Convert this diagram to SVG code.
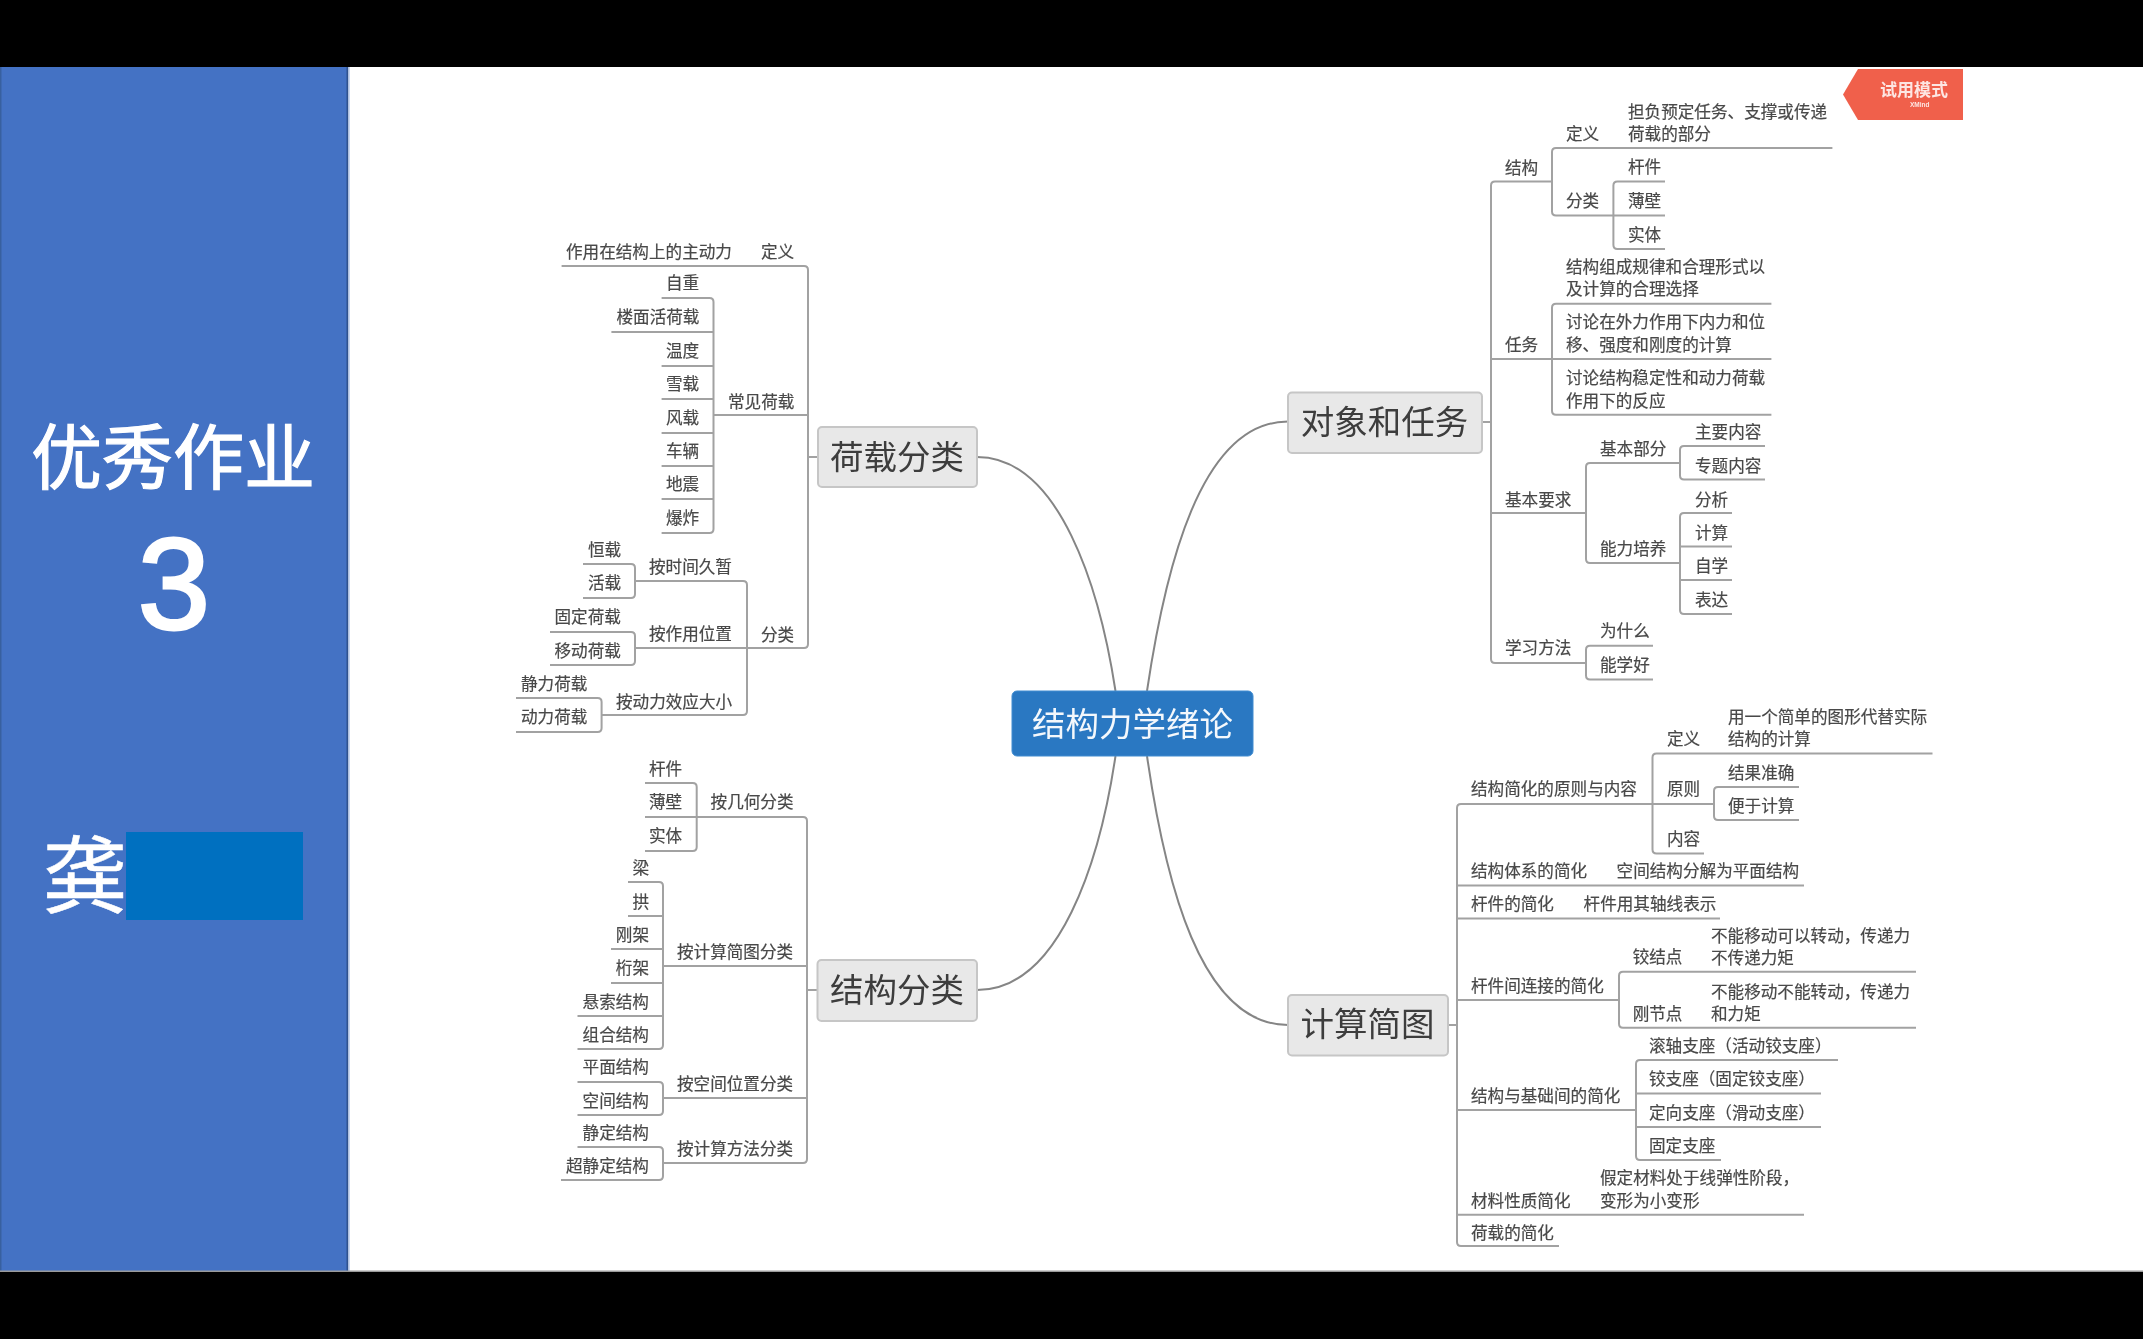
<svg xmlns="http://www.w3.org/2000/svg" width="2143" height="1339" viewBox="0 0 2143 1339">
<defs>
<style>
text{font-family:"Liberation Sans","Noto Sans CJK SC",sans-serif}
.t{font-size:16.6px;fill:#484848;stroke:#484848;stroke-width:.2}
.m{font-size:33.500px;fill:#3c3c3c;text-anchor:middle}
.box{fill:#e8e8e8;stroke:#c6c6c6;stroke-width:2}
.c{fill:none;stroke:#a2a2a2;stroke-width:2}
.cv{fill:none;stroke:#858585;stroke-width:2}
.w{fill:#fff;stroke:#fff;text-anchor:middle}
</style>
<filter id="soft" x="-2%" y="-2%" width="104%" height="104%"><feGaussianBlur stdDeviation="0.45"/></filter>
</defs>
<rect width="2143" height="1339" fill="#fff"/>
<rect width="2143" height="67" fill="#000"/>
<rect y="1272" width="2143" height="67" fill="#000"/>
<g id="panel">
<rect x="0" y="67" width="348" height="1205" fill="#4472c4"/>
<rect x="0" y="67" width="1.500" height="1205" fill="#38609f"/>
<rect x="346.500" y="67" width="2" height="1205" fill="#2f528f"/>
<rect x="348.500" y="67" width="1.500" height="1205" fill="#c9d8f2"/>
<rect x="0" y="1270.500" width="2143" height="1.500" fill="#9a9a9a"/>
<rect x="0" y="67" width="348" height="1205" fill="none"/>
<text class="w" x="173" y="483" font-size="71" stroke-width="1.200">优秀作业</text>
<text class="w" x="174" y="629" font-size="130" stroke-width="3">3</text>
<text class="w" x="85" y="907" font-size="85" stroke-width=".5">龚</text>
<rect x="126" y="832" width="177" height="88" fill="#0070c0"/>
</g>
<g id="watermark" filter="url(#soft)">
<polygon points="1858,69 1963,69 1963,120 1858,120 1843,94.500" fill="#f0604c"/>
<text x="1880" y="96" font-size="17" font-weight="bold" fill="#fde6e2">试用模式</text>
<text x="1910" y="107" font-size="6.500" font-weight="bold" fill="#fde6e2">XMind</text>
</g>
<g filter="url(#soft)">
<g id="connectors">
<path class="cv" d="M977,457C1060,457 1100,590 1115.500,691"/>
<path class="cv" d="M977,990C1060,990 1100,860 1115.500,756"/>
<path class="cv" d="M1288,421.500C1200,421.500 1165,570 1147,691"/>
<path class="cv" d="M1147,756C1165,880 1200,1025 1288,1025"/>
<path class="c" d="M808,457H818M807,990H817.500M1482,422H1491M1448,1025H1457"/>
<path class="c" d="M561.600,266H804q4,0 4,4V644q0,4-4,4H636M713,415H808"/>
<path class="c" d="M661.600,298H709.500q4,0 4,4V529q0,4-4,4H661.600M611.400,332H713.500M661.600,366H713.500M661.600,399H713.500M661.600,433H713.500M661.600,466H713.500M661.600,499H713.500"/>
<path class="c" d="M636,581H743q4,0 4,4V711q0,4-4,4H602"/>
<path class="c" d="M583,564H631q4,0 4,4V594q0,4-4,4H583"/>
<path class="c" d="M550,632H631q4,0 4,4V661q0,4-4,4H550"/>
<path class="c" d="M516,698H597.600q4,0 4,4V728q0,4-4,4H516"/>
<path class="c" d="M645,817H803q4,0 4,4V1159q0,4-4,4H663M663,966H807M663,1098H807"/>
<path class="c" d="M645,783H692.700q4,0 4,4V847q0,4-4,4H645"/>
<path class="c" d="M628,882H659q4,0 4,4V1045q0,4-4,4H577.500M628,916H663M611,949H663M611,983H663M577.500,1016H663"/>
<path class="c" d="M577.500,1082H659q4,0 4,4V1111q0,4-4,4H577.500"/>
<path class="c" d="M577.500,1147H659q4,0 4,4V1176q0,4-4,4H561"/>
<path class="c" d="M1551,181.600H1495q-4,0-4,4V659q0,4 4,4H1586M1491,359H1552M1491,513H1586"/>
<path class="c" d="M1832.400,148H1556q-4,0-4,4V211.500q0,4 4,4H1665"/>
<path class="c" d="M1665,181.600H1617.400q-4,0-4,4V245q0,4 4,4H1665"/>
<path class="c" d="M1771.400,303.700H1556q-4,0-4,4V410.700q0,4 4,4H1771.400M1552,359H1771.400"/>
<path class="c" d="M1680,463H1590q-4,0-4,4V559q0,4 4,4H1680"/>
<path class="c" d="M1765,446H1684q-4,0-4,4V475.600q0,4 4,4H1765"/>
<path class="c" d="M1732,513H1684q-4,0-4,4V610q0,4 4,4H1732M1680,546.500H1732M1680,580H1732"/>
<path class="c" d="M1653,645.700H1590q-4,0-4,4V675.600q0,4 4,4H1653"/>
<path class="c" d="M1713,804H1461q-4,0-4,4V1242q0,4 4,4H1559M1804,885.600H1457M1720,918.400H1457M1619,1000H1457M1636,1110H1457M1804,1214.700H1457"/>
<path class="c" d="M1932.500,753.600H1656.500q-4,0-4,4V849.600q0,4 4,4H1704"/>
<path class="c" d="M1799,787H1718q-4,0-4,4V816q0,4 4,4H1799"/>
<path class="c" d="M1916,971.800H1623q-4,0-4,4V1023.800q0,4 4,4H1916"/>
<path class="c" d="M1838,1060H1640q-4,0-4,4V1156q0,4 4,4H1721M1636,1093.600H1821M1636,1127H1821"/>
</g>
<g id="root"><rect x="1012" y="691" width="241" height="65" rx="5" fill="#2b78c2" stroke="#3f8bd0"/><text x="1132.500" y="736" font-size="33.500" fill="#f4f8fc" text-anchor="middle">结构力学绪论</text></g>
<g id="load"><rect class="box" x="818" y="427" width="159" height="60" rx="4"/><text class="m" x="897" y="469">荷载分类</text></g>
<g id="struct"><rect class="box" x="817.500" y="960" width="159.500" height="61" rx="4"/><text class="m" x="897" y="1002">结构分类</text></g>
<g id="object"><rect class="box" x="1288" y="392.600" width="194" height="60.400" rx="4"/><text class="m" x="1384.500" y="434">对象和任务</text></g>
<g id="calc"><rect class="box" x="1288" y="995" width="160" height="60.500" rx="4"/><text class="m" x="1367.500" y="1036">计算简图</text></g>

<g id="l1"><text class="t" x="761" y="258">定义</text></g>
<g id="l1a"><text class="t" x="566" y="258">作用在结构上的主动力</text></g>
<g id="l2"><text class="t" x="728" y="408">常见荷载</text></g>
<g id="l2a"><text class="t" x="666" y="289">自重</text></g>
<g id="l2b"><text class="t" x="616.500" y="323">楼面活荷载</text></g>
<g id="l2c"><text class="t" x="666" y="357">温度</text></g>
<g id="l2d"><text class="t" x="666" y="390">雪载</text></g>
<g id="l2e"><text class="t" x="666" y="424">风载</text></g>
<g id="l2f"><text class="t" x="666" y="457">车辆</text></g>
<g id="l2g"><text class="t" x="666" y="490">地震</text></g>
<g id="l2h"><text class="t" x="666" y="524">爆炸</text></g>
<g id="l3"><text class="t" x="761" y="641">分类</text></g>
<g id="l3a"><text class="t" x="649" y="573">按时间久暂</text></g>
<g id="l3a1"><text class="t" x="588" y="556">恒载</text></g>
<g id="l3a2"><text class="t" x="588" y="589">活载</text></g>
<g id="l3b"><text class="t" x="649" y="640">按作用位置</text></g>
<g id="l3b1"><text class="t" x="554.500" y="623">固定荷载</text></g>
<g id="l3b2"><text class="t" x="554.500" y="657">移动荷载</text></g>
<g id="l3c"><text class="t" x="616" y="708">按动力效应大小</text></g>
<g id="l3c1"><text class="t" x="521" y="690">静力荷载</text></g>
<g id="l3c2"><text class="t" x="521" y="723">动力荷载</text></g>

<g id="s1"><text class="t" x="710.600" y="808">按几何分类</text></g>
<g id="s1a"><text class="t" x="649" y="775">杆件</text></g>
<g id="s1b"><text class="t" x="649" y="808">薄壁</text></g>
<g id="s1c"><text class="t" x="649" y="842">实体</text></g>
<g id="s2"><text class="t" x="677" y="958">按计算简图分类</text></g>
<g id="s2a"><text class="t" x="632.600" y="874">梁</text></g>
<g id="s2b"><text class="t" x="632.600" y="908">拱</text></g>
<g id="s2c"><text class="t" x="615.800" y="941">刚架</text></g>
<g id="s2d"><text class="t" x="615.800" y="974">桁架</text></g>
<g id="s2e"><text class="t" x="582.600" y="1008">悬索结构</text></g>
<g id="s2f"><text class="t" x="582.600" y="1041">组合结构</text></g>
<g id="s3"><text class="t" x="677" y="1090">按空间位置分类</text></g>
<g id="s3a"><text class="t" x="582.600" y="1073">平面结构</text></g>
<g id="s3b"><text class="t" x="582.600" y="1107">空间结构</text></g>
<g id="s4"><text class="t" x="677" y="1155">按计算方法分类</text></g>
<g id="s4a"><text class="t" x="582.600" y="1139">静定结构</text></g>
<g id="s4b"><text class="t" x="566" y="1172">超静定结构</text></g>

<g id="o1"><text class="t" x="1505" y="174">结构</text></g>
<g id="o1a"><text class="t" x="1566" y="140">定义</text></g>
<g id="o1a1"><text class="t" x="1628" y="118">担负预定任务、支撑或传递</text><text class="t" x="1628" y="140">荷载的部分</text></g>
<g id="o1b"><text class="t" x="1566" y="207">分类</text></g>
<g id="o1b1"><text class="t" x="1628" y="173">杆件</text></g>
<g id="o1b2"><text class="t" x="1628" y="207">薄壁</text></g>
<g id="o1b3"><text class="t" x="1628" y="241">实体</text></g>
<g id="o2"><text class="t" x="1505" y="350.500">任务</text></g>
<g id="o2a"><text class="t" x="1566" y="273">结构组成规律和合理形式以</text><text class="t" x="1566" y="295">及计算的合理选择</text></g>
<g id="o2b"><text class="t" x="1566" y="328">讨论在外力作用下内力和位</text><text class="t" x="1566" y="350.500">移、强度和刚度的计算</text></g>
<g id="o2c"><text class="t" x="1566" y="384">讨论结构稳定性和动力荷载</text><text class="t" x="1566" y="407">作用下的反应</text></g>
<g id="o3"><text class="t" x="1505" y="505.600">基本要求</text></g>
<g id="o3a"><text class="t" x="1600" y="455">基本部分</text></g>
<g id="o3a1"><text class="t" x="1695" y="438">主要内容</text></g>
<g id="o3a2"><text class="t" x="1695" y="472">专题内容</text></g>
<g id="o3b"><text class="t" x="1600" y="555">能力培养</text></g>
<g id="o3b1"><text class="t" x="1695" y="505.600">分析</text></g>
<g id="o3b2"><text class="t" x="1695" y="538.700">计算</text></g>
<g id="o3b3"><text class="t" x="1695" y="572">自学</text></g>
<g id="o3b4"><text class="t" x="1695" y="605.600">表达</text></g>
<g id="o4"><text class="t" x="1505" y="654">学习方法</text></g>
<g id="o4a"><text class="t" x="1600" y="637">为什么</text></g>
<g id="o4b"><text class="t" x="1600" y="671">能学好</text></g>

<g id="c1"><text class="t" x="1471" y="795">结构简化的原则与内容</text></g>
<g id="c1a"><text class="t" x="1667" y="745">定义</text></g>
<g id="c1a1"><text class="t" x="1728" y="722.500">用一个简单的图形代替实际</text><text class="t" x="1728" y="745">结构的计算</text></g>
<g id="c1b"><text class="t" x="1667" y="795">原则</text></g>
<g id="c1b1"><text class="t" x="1728" y="778.500">结果准确</text></g>
<g id="c1b2"><text class="t" x="1728" y="811.600">便于计算</text></g>
<g id="c1c"><text class="t" x="1667" y="845">内容</text></g>
<g id="c2"><text class="t" x="1471" y="877">结构体系的简化</text></g>
<g id="c2a"><text class="t" x="1616.600" y="877">空间结构分解为平面结构</text></g>
<g id="c3"><text class="t" x="1471" y="909.500">杆件的简化</text></g>
<g id="c3a"><text class="t" x="1583.600" y="909.500">杆件用其轴线表示</text></g>
<g id="c4"><text class="t" x="1471" y="991.600">杆件间连接的简化</text></g>
<g id="c4a"><text class="t" x="1632.700" y="963">铰结点</text></g>
<g id="c4a1"><text class="t" x="1711" y="942">不能移动可以转动，传递力</text><text class="t" x="1711" y="964">不传递力矩</text></g>
<g id="c4b"><text class="t" x="1632.700" y="1019.600">刚节点</text></g>
<g id="c4b1"><text class="t" x="1711" y="997.500">不能移动不能转动，传递力</text><text class="t" x="1711" y="1019.600">和力矩</text></g>
<g id="c5"><text class="t" x="1471" y="1101.500">结构与基础间的简化</text></g>
<g id="c5a"><text class="t" x="1649" y="1051.600">滚轴支座（活动铰支座）</text></g>
<g id="c5b"><text class="t" x="1649" y="1085">铰支座（固定铰支座）</text></g>
<g id="c5c"><text class="t" x="1649" y="1118.500">定向支座（滑动支座）</text></g>
<g id="c5d"><text class="t" x="1649" y="1151.600">固定支座</text></g>
<g id="c6"><text class="t" x="1471" y="1207">材料性质简化</text></g>
<g id="c6a"><text class="t" x="1600" y="1184">假定材料处于线弹性阶段，</text><text class="t" x="1600" y="1207">变形为小变形</text></g>
<g id="c7"><text class="t" x="1471" y="1239">荷载的简化</text></g>
</g>
</svg>
